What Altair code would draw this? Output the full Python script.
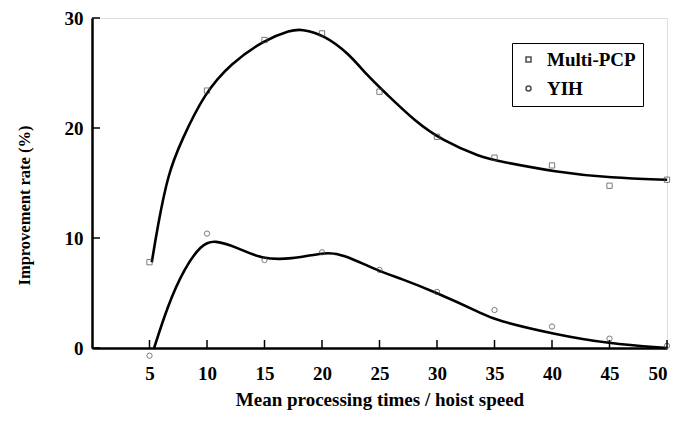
import altair as alt
import pandas as pd

# Measured points (markers)
x_pts = [5, 10, 15, 20, 25, 30, 35, 40, 45, 50]
multi_pts = [7.8, 23.4, 28.0, 28.6, 23.3, 19.2, 17.3, 16.6, 14.75, 15.3]
yih_pts = [-0.7, 10.4, 8.0, 8.7, 7.1, 5.1, 3.45, 1.95, 0.85, 0.2]

# Fitted curves
multi_curve_x = [5.2, 5.7, 6.6, 7.75, 9.8, 12.1, 15.0, 17.3, 18.2, 20.2, 22.3, 24.0, 25.5, 28.1, 30.4, 33.9, 35.3, 40.3, 45.2, 50.0]
multi_curve_y = [7.8, 11.0, 15.8, 18.8, 23.2, 25.9, 28.0, 28.9, 29.0, 28.45, 26.8, 24.7, 23.2, 20.6, 18.9, 17.3, 17.0, 16.0, 15.45, 15.3]
yih_curve_x = [5.4, 6.6, 8.0, 9.5, 10.65, 12.7, 14.7, 17.3, 20.2, 21.7, 24.9, 26.9, 29.8, 33.9, 35.0, 40.2, 44.9, 50.0]
yih_curve_y = [0.0, 3.9, 7.2, 9.4, 9.85, 9.1, 8.1, 8.05, 8.7, 8.6, 7.0, 6.3, 5.1, 3.15, 2.55, 1.25, 0.4, 0.0]

x_ticks = [5, 10, 15, 20, 25, 30, 35, 40, 45, 50]
y_ticks = [0, 10, 20, 30]

FONT = "Liberation Serif"

pts = pd.DataFrame(
    [{"x": x, "y": y, "series": "Multi-PCP"} for x, y in zip(x_pts, multi_pts)]
    + [{"x": x, "y": y, "series": "YIH"} for x, y in zip(x_pts, yih_pts)]
)
curves = pd.DataFrame(
    [{"x": x, "y": y, "series": "Multi-PCP"} for x, y in zip(multi_curve_x, multi_curve_y)]
    + [{"x": x, "y": y, "series": "YIH"} for x, y in zip(yih_curve_x, yih_curve_y)]
)

xscale = alt.Scale(domain=[0, 50], nice=False, zero=False)
yscale = alt.Scale(domain=[0, 30], nice=False)

xaxis = alt.Axis(values=x_ticks, ticks=False, grid=False, domainColor="black", domainWidth=2.5,
                 labelFont=FONT, labelFontSize=19, labelFontWeight="bold", labelColor="black",
                 labelPadding=16, title="Mean processing times / hoist speed", titleFont=FONT,
                 titleFontSize=19, titleFontWeight="bold", titleColor="black", titlePadding=7)
yaxis = alt.Axis(values=y_ticks, ticks=False, grid=False, domainColor="black", domainWidth=2.5,
                 labelFont=FONT, labelFontSize=19, labelFontWeight="bold", labelColor="black",
                 labelPadding=9, title="Improvement rate (%)", titleFont=FONT,
                 titleFontSize=16.5, titleFontWeight="bold", titleColor="black", titlePadding=32,
                 titleY=187)

lines = alt.Chart(curves).mark_line(color="black", strokeWidth=2.6, interpolate="basis").encode(
    x=alt.X("x:Q", scale=xscale, axis=xaxis),
    y=alt.Y("y:Q", scale=yscale, axis=yaxis),
    detail="series:N",
)

points = alt.Chart(pts).mark_point(filled=False, color="#444444", strokeWidth=1, size=28, clip=False).encode(
    x=alt.X("x:Q", scale=xscale),
    y=alt.Y("y:Q", scale=yscale),
    shape=alt.Shape("series:N", scale=alt.Scale(domain=["Multi-PCP", "YIH"], range=["square", "circle"]),
                    legend=alt.Legend(title=None, orient="none", legendX=420, legendY=25,
                                      strokeColor="black", padding=7, labelFont=FONT,
                                      labelFontSize=19, labelFontWeight="bold", labelColor="black",
                                      symbolStrokeColor="black", symbolSize=25, rowPadding=9,
                                      labelOffset=9)),
)

xt = alt.Chart(pd.DataFrame({"x": x_ticks})).mark_rule(color="black", strokeWidth=1.5).encode(
    x=alt.X("x:Q", scale=xscale), y=alt.value(330), y2=alt.value(322))
yt = alt.Chart(pd.DataFrame({"y": y_ticks})).mark_rule(color="black", strokeWidth=1.5).encode(
    y=alt.Y("y:Q", scale=yscale), x=alt.value(0), x2=alt.value(8))

chart = alt.layer(lines, points, xt, yt).properties(
    width=575, height=330,
    autosize=alt.AutoSizeParams(type="none"),
    padding={"left": 84, "top": 10, "right": 16, "bottom": 69},
).configure_view(stroke="black", strokeWidth=2.5).configure(background="white")

chart.save("out.html", embed_options={"renderer": "svg", "actions": False})
